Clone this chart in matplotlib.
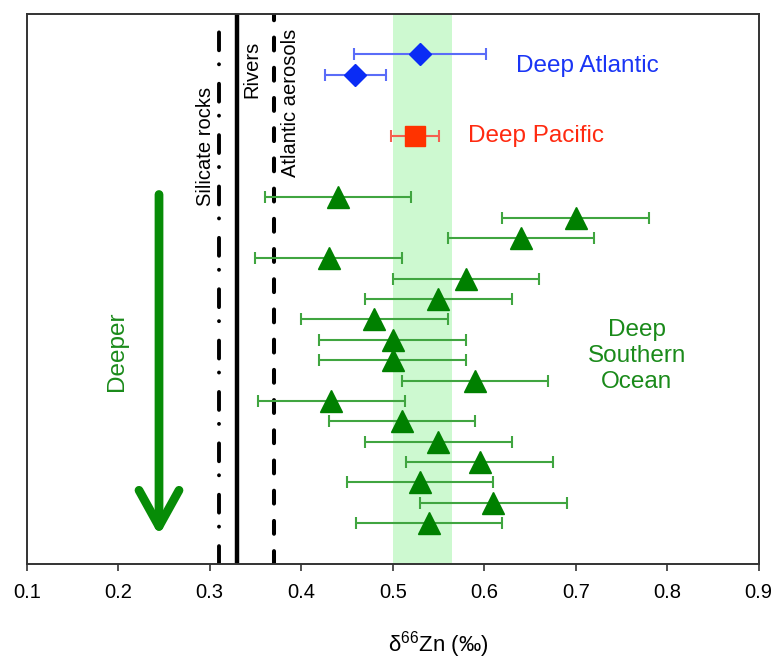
import numpy as np
import matplotlib
matplotlib.use('Agg')
import matplotlib.pyplot as plt

plt.rcParams['font.family'] = ['Liberation Sans', 'DejaVu Sans']

# deep atlantic (x, error bar ends, row position)
atl_x = [0.530, 0.459]
atl_lo = [0.458, 0.426]
atl_hi = [0.602, 0.493]
atl_y = [25, 24]

# deep pacific
pac_x = [0.524]
pac_lo = [0.4985]
pac_hi = [0.551]
pac_y = [21]

# deep southern ocean, shallow -> deep
so_x = [0.44, 0.70, 0.64, 0.43, 0.58, 0.55, 0.48, 0.50, 0.50, 0.59, 0.433, 0.51, 0.55, 0.595, 0.53, 0.61, 0.54]
so_lo = [0.36, 0.62, 0.56, 0.35, 0.50, 0.47, 0.40, 0.42, 0.42, 0.51, 0.353, 0.43, 0.47, 0.515, 0.45, 0.53, 0.46]
so_hi = [0.52, 0.78, 0.72, 0.51, 0.66, 0.63, 0.56, 0.58, 0.58, 0.67, 0.513, 0.59, 0.63, 0.675, 0.61, 0.69, 0.62]
so_y = list(range(18, 1, -1))

# reference values
silicate = 0.31
rivers = 0.33
aerosols = 0.37
band = [0.50, 0.565]

xticks = [0.1, 0.2, 0.3, 0.4, 0.5, 0.6, 0.7, 0.8, 0.9]

green = '#008000'
fig = plt.figure(figsize=(7.76, 6.66), dpi=100)
ax = fig.add_subplot(111)
fig.subplots_adjust(left=0.0344, right=0.9777, bottom=0.1532, top=0.9794)

ax.axvspan(band[0], band[1], color='#cdf9d0', lw=0, zorder=0)

ax.axvline(silicate, color='k', lw=2.8, ls=(0, (4.6, 5, 0.01, 3.6)), dash_capstyle='round', zorder=2)
ax.axvline(rivers, color='k', lw=3.2, zorder=2)
ax.axvline(aerosols, color='k', lw=2.9, ls=(0, (3.2, 4.3)), dash_capstyle='round', zorder=2)

def xerr(x, lo, hi):
    x = np.array(x); return [x - np.array(lo), np.array(hi) - x]

ax.errorbar(so_x, so_y, xerr=xerr(so_x, so_lo, so_hi), fmt='^', ms=16, mfc=green, mec=green,
            ecolor='#40a540', elinewidth=1.5, capsize=4.3, capthick=1.5, zorder=3)
ax.errorbar(atl_x, atl_y, xerr=xerr(atl_x, atl_lo, atl_hi), fmt='D', ms=11.5, mfc='#0a2cf5', mec='#0a2cf5',
            ecolor='#5a6cf8', elinewidth=1.5, capsize=4.3, capthick=1.5, zorder=3)
ax.errorbar(pac_x, pac_y, xerr=xerr(pac_x, pac_lo, pac_hi), fmt='s', ms=14.5, mfc='#ff3300', mec='#ff3300',
            ecolor='#f5604f', elinewidth=1.5, capsize=4.3, capthick=1.5, zorder=3)

ax.text(0.635, 24.45, 'Deep Atlantic', color='#1a35f5', fontsize=17.5, ha='left', va='center')
ax.text(0.582, 21.02, 'Deep Pacific', color='#ff2a10', fontsize=17.5, ha='left', va='center')
ax.text(0.7667, 10.2, 'Deep\nSouthern\nOcean', color='#1a8a1a', fontsize=17.5, ha='center', va='center',
        linespacing=1.22)
ax.text(0.1984, 10.43, 'Deeper', color='#1a8a1a', fontsize=17.5, rotation=90, ha='center', va='center')

ax.text(0.2949, 20.48, 'Silicate rocks', fontsize=14.5, rotation=90, ha='center', va='center')
ax.text(0.3459, 24.25, 'Rivers', fontsize=14.5, rotation=90, ha='center', va='center')
ax.text(0.3878, 22.64, 'Atlantic aerosols', fontsize=14.5, rotation=90, ha='center', va='center')

ax.annotate('', xy=(0.2446, 1.4), xytext=(0.2446, 18.13),
            arrowprops=dict(arrowstyle='->,head_length=1.3,head_width=0.72', lw=6.3, color='#078c07',
                            capstyle='round', joinstyle='round', shrinkA=0, shrinkB=0, mutation_scale=20))

ax.set_xlim(0.1, 0.9)
ax.set_ylim(0, 27)
ax.set_xticks(xticks)
ax.set_xticklabels(['%.1f' % t for t in xticks], fontsize=14.5)
ax.set_yticks([])
ax.tick_params(axis='x', direction='out', length=5, width=1.2, color='#333333', pad=9)
for s in ax.spines.values():
    s.set_color('#333333')
    s.set_linewidth(1.4)

ax.set_xlabel(r'$\mathregular{\delta^{66}}$Zn (‰)', fontsize=16)
ax.xaxis.set_label_coords(0.562, -0.118)

plt.savefig('out.png', dpi=100)
